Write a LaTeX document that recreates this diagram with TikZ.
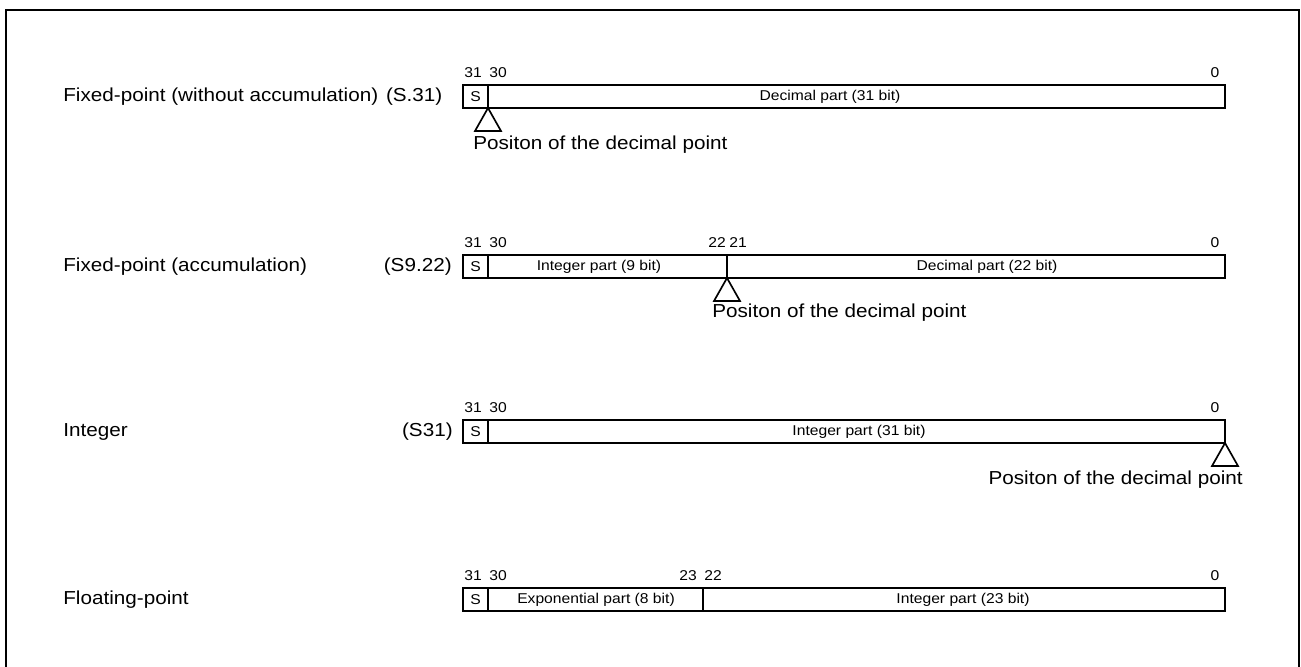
\documentclass[tikz,border=0pt]{standalone}
\usepackage{fontspec}
\setmainfont{Liberation Sans}[FakeStretch=1.1]
\usetikzlibrary{positioning}

\newcommand\labelfont{\fontsize{10.7}{12}\selectfont}
\newcommand\bitfont{\fontsize{8.1}{9.5}\selectfont}

\tikzset{
  field/.style={draw,line width=0.85pt},
  pointer/.style={draw,line width=0.95pt,line join=miter},
  bitno/.style={font=\bitfont,inner sep=0pt},
  part/.style={font=\bitfont,inner sep=0pt},
  fmt/.style={font=\labelfont,inner sep=0pt},
}

\begin{document}
\begin{tikzpicture}[x=0.02cm,y=-0.02cm]
  \useasboundingbox (0,0) rectangle (1301,666);
  % frame, its lower edge lies below the page
  \draw[line width=1.1pt] (6,680) -- (6,10) -- (1299,10) -- (1299,680);

  % fixed-point without accumulation
  \node[fmt,anchor=west] (name1) at (63,97) {Fixed-point (without accumulation)};
  \node[fmt,right=4pt of name1] (code1) {(S.31)};
  \draw[field] (463,85) rectangle (1225,108);
  \draw[field] (488,85) -- (488,108);
  \node[part] (sign1) at (475.5,96.5) {S};
  \node[part] (dec1) at (830,96.5) {Decimal part (31 bit)};
  \node[bitno] (b1h) at (473,73) {31};
  \node[bitno] (b1a) at (498,73) {30};
  \node[bitno] (b1l) at (1215,73) {0};
  \draw[pointer] (488,108) -- (475,131) -- (501,131) -- cycle;
  \node[fmt,anchor=west] (pos1) at (473,145) {Positon of the decimal point};

  % fixed-point with accumulation
  \node[fmt,anchor=west] (name2) at (63,267) {Fixed-point (accumulation)};
  \node[fmt,anchor=east] (code2) at (452,267) {(S9.22)};
  \draw[field] (463,255) rectangle (1225,278);
  \draw[field] (488,255) -- (488,278);
  \draw[field] (727,255) -- (727,278);
  \node[part] (sign2) at (475.5,266.5) {S};
  \node[part] (int2) at (599,266.5) {Integer part (9 bit)};
  \node[part] (dec2) at (987,266.5) {Decimal part (22 bit)};
  \node[bitno] (b2h) at (473,243) {31};
  \node[bitno] (b2a) at (498,243) {30};
  \node[bitno] (b2b) at (717,243) {22};
  \node[bitno] (b2c) at (738,243) {21};
  \node[bitno] (b2l) at (1215,243) {0};
  \draw[pointer] (727,278) -- (714,301) -- (740,301) -- cycle;
  \node[fmt,anchor=west] (pos2) at (712,313) {Positon of the decimal point};

  % integer
  \node[fmt,anchor=west] (name3) at (63,432) {Integer};
  \node[fmt,anchor=east] (code3) at (453,432) {(S31)};
  \draw[field] (463,420) rectangle (1225,443);
  \draw[field] (488,420) -- (488,443);
  \node[part] (sign3) at (475.5,431.5) {S};
  \node[part] (int3) at (859,431.5) {Integer part (31 bit)};
  \node[bitno] (b3h) at (473,408) {31};
  \node[bitno] (b3a) at (498,408) {30};
  \node[bitno] (b3l) at (1215,408) {0};
  \draw[pointer] (1225,443) -- (1212,466) -- (1238,466) -- cycle;
  \node[fmt,anchor=east] (pos3) at (1243,480) {Positon of the decimal point};

  % floating-point
  \node[fmt,anchor=west] (name4) at (63,600) {Floating-point};
  \draw[field] (463,588) rectangle (1225,611);
  \draw[field] (488,588) -- (488,611);
  \draw[field] (703,588) -- (703,611);
  \node[part] (sign4) at (475.5,599.5) {S};
  \node[part] (exp4) at (596,599.5) {Exponential part (8 bit)};
  \node[part] (int4) at (963,599.5) {Integer part (23 bit)};
  \node[bitno] (b4h) at (473,576) {31};
  \node[bitno] (b4a) at (498,576) {30};
  \node[bitno] (b4b) at (688,576) {23};
  \node[bitno] (b4c) at (713,576) {22};
  \node[bitno] (b4l) at (1215,576) {0};
\end{tikzpicture}
\end{document}
